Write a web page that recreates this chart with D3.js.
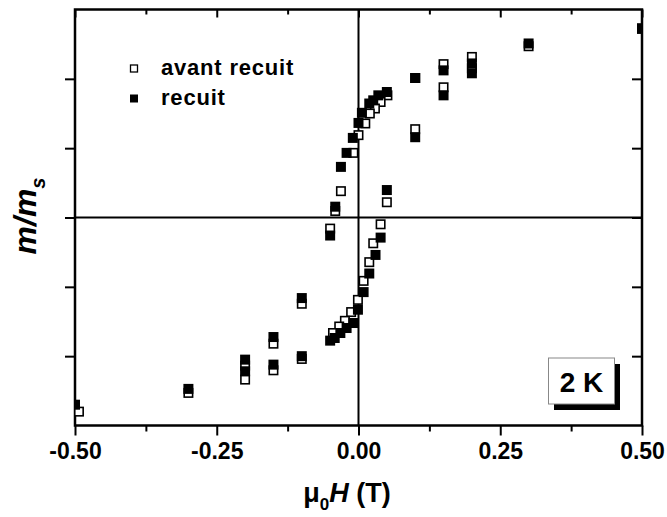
<!DOCTYPE html>
<html><head><meta charset="utf-8">
<script src="https://cdn.jsdelivr.net/npm/d3@7/dist/d3.min.js"></script>
<style>
body{margin:0;background:#fff;}
svg{display:block;font-family:"Liberation Sans",Arial,sans-serif;}
</style></head>
<body><svg id="c" width="667" height="517"></svg>
<script>
// avant recuit (open squares)
const avantH = [0.5,0.3,0.2,0.2,0.15,0.15,0.1,0.1,0.05,
  0.051,0.039,0.029,0.02,0.012,0.0,-0.009,-0.031,-0.041,-0.05,
  0.039,0.026,0.019,0.009,-0.001,-0.013,-0.024,-0.034,-0.045,
  -0.1,-0.1,-0.15,-0.15,-0.2,-0.2,-0.3,-0.493];
const avantM = [1.36,1.235,1.158,1.076,1.106,0.939,1.006,0.637,0.11,
  0.881,0.833,0.786,0.75,0.678,0.594,0.466,0.19,0.047,-0.08,
  -0.049,-0.186,-0.322,-0.457,-0.594,-0.682,-0.745,-0.786,-0.833,
  -0.622,-1.02,-0.91,-1.102,-1.068,-1.169,-1.265,-1.40];
// recuit (filled squares)
const recuitH = [0.5,0.3,0.2,0.2,0.15,0.15,0.1,0.1,0.05,0.05,
  0.035,0.026,0.019,0.006,0.0,-0.01,-0.021,-0.031,-0.041,-0.05,
  0.039,0.030,0.019,0.009,-0.001,-0.009,-0.021,-0.032,-0.042,-0.05,
  -0.1,-0.1,-0.15,-0.15,-0.2,-0.2,-0.3,-0.5];
const recuitM = [1.365,1.255,1.111,1.04,1.061,0.881,1.006,0.579,0.905,0.198,
  0.881,0.845,0.822,0.755,0.682,0.574,0.466,0.365,0.078,-0.13,
  -0.145,-0.27,-0.404,-0.538,-0.665,-0.761,-0.797,-0.833,-0.869,-0.888,
  -0.581,-1.0,-0.862,-1.061,-1.025,-1.109,-1.236,-1.35];
const xMajor = [-0.5,-0.25,0,0.25,0.5];
const xMinor = [-0.375,-0.125,0.125,0.375];
const yTicks = [-1,-0.5,0,0.5,1];
const seriesNames = ["avant recuit","recuit"];

const svg = d3.select("#c");
const L=75,R=642,T=9.5,B=425.5;
const x = d3.scaleLinear().domain([-0.5,0.5]).range([L,R]);
const y = d3.scaleLinear().domain([-1.5,1.5]).range([B,T]);

svg.append("defs").append("clipPath").attr("id","pc")
  .append("rect").attr("x",L).attr("y",T).attr("width",R-L).attr("height",B-T);

function styleAxis(g){
  g.select(".domain").remove();
  g.selectAll(".tick line").attr("stroke","#000").attr("stroke-width",2);
}
// bottom
svg.append("g").attr("transform",`translate(0,${B})`)
  .call(d3.axisBottom(x).tickValues(xMajor).tickSize(10).tickPadding(7).tickFormat(d=>d.toFixed(2)))
  .call(styleAxis)
  .call(g=>g.selectAll("text").attr("fill","#000").attr("font-size",23).attr("font-weight","bold").attr("font-family","Liberation Sans, Arial, sans-serif"));
svg.append("g").attr("transform",`translate(0,${B})`)
  .call(d3.axisBottom(x).tickValues(xMinor).tickSize(6).tickFormat(""))
  .call(styleAxis);
// top (inward)
svg.append("g").attr("transform",`translate(0,${T})`)
  .call(d3.axisTop(x).tickValues(xMajor).tickSize(-8).tickFormat(""))
  .call(styleAxis);
svg.append("g").attr("transform",`translate(0,${T})`)
  .call(d3.axisTop(x).tickValues(xMinor).tickSize(-5).tickFormat(""))
  .call(styleAxis);
// left (outward)
svg.append("g").attr("transform",`translate(${L},0)`)
  .call(d3.axisLeft(y).tickValues(yTicks).tickSize(10).tickFormat(""))
  .call(styleAxis);
// right (inward)
svg.append("g").attr("transform",`translate(${R},0)`)
  .call(d3.axisRight(y).tickValues(yTicks).tickSize(-10).tickFormat(""))
  .call(styleAxis);

// zero lines
svg.append("line").attr("x1",L).attr("x2",R).attr("y1",y(0)).attr("y2",y(0)).attr("stroke","#000").attr("stroke-width",2);
svg.append("line").attr("x1",x(0)).attr("x2",x(0)).attr("y1",T).attr("y2",B).attr("stroke","#000").attr("stroke-width",2);

// frame
svg.append("rect").attr("x",L).attr("y",T).attr("width",R-L).attr("height",B-T)
  .attr("fill","none").attr("stroke","#000").attr("stroke-width",2.5);

const S=10;
const pts = svg.append("g").attr("clip-path","url(#pc)");
pts.selectAll("rect.o").data(avantH.map((h,i)=>[h,avantM[i]])).join("rect")
  .attr("class","o").attr("x",d=>x(d[0])-S/2+0.8).attr("y",d=>y(d[1])-S/2+0.8)
  .attr("width",S-1.6).attr("height",S-1.6).attr("fill","#fff").attr("stroke","#000").attr("stroke-width",1.6);
pts.selectAll("rect.f").data(recuitH.map((h,i)=>[h,recuitM[i]])).join("rect")
  .attr("class","f").attr("x",d=>x(d[0])-S/2).attr("y",d=>y(d[1])-S/2)
  .attr("width",S).attr("height",S).attr("fill","#000");

// legend
const lg = svg.append("g");
lg.append("rect").attr("x",134-3.5).attr("y",68.5-3.5).attr("width",7).attr("height",7)
  .attr("fill","#fff").attr("stroke","#000").attr("stroke-width",1.3);
lg.append("rect").attr("x",134-4).attr("y",98.5-4).attr("width",8).attr("height",8).attr("fill","#000");
lg.selectAll("text").data(seriesNames).join("text")
  .attr("x",161).attr("y",(d,i)=>74.5+i*30)
  .attr("font-size",22).attr("font-weight","bold").attr("letter-spacing",0.8).attr("fill","#000")
  .text(d=>d);

// 2 K box
svg.append("rect").attr("x",554).attr("y",364).attr("width",66).attr("height",46).attr("fill","#000");
svg.append("rect").attr("x",548.5).attr("y",358).attr("width",66).attr("height",46)
  .attr("fill","#fff").attr("stroke","#888").attr("stroke-width",1);
svg.append("text").attr("x",581.5).attr("y",392).attr("text-anchor","middle")
  .attr("font-size",28).attr("font-weight","bold").attr("fill","#000").text("2 K");

// x title
const xt = svg.append("text").attr("x",347).attr("y",502).attr("text-anchor","middle")
  .attr("font-size",27).attr("font-weight","bold").attr("fill","#000");
xt.append("tspan").text("μ");
xt.append("tspan").attr("font-size",17).attr("dy",8).text("0");
xt.append("tspan").attr("dy",-8).attr("font-style","italic").text("H");
xt.append("tspan").text(" (T)");

// y title
const yt = svg.append("text").attr("transform","translate(36,216) rotate(-90)").attr("text-anchor","middle")
  .attr("font-size",32).attr("font-weight","bold").attr("font-style","italic").attr("fill","#000");
yt.append("tspan").text("m/m");
yt.append("tspan").attr("font-size",20).attr("dy",9).text("s");
</script></body></html>
